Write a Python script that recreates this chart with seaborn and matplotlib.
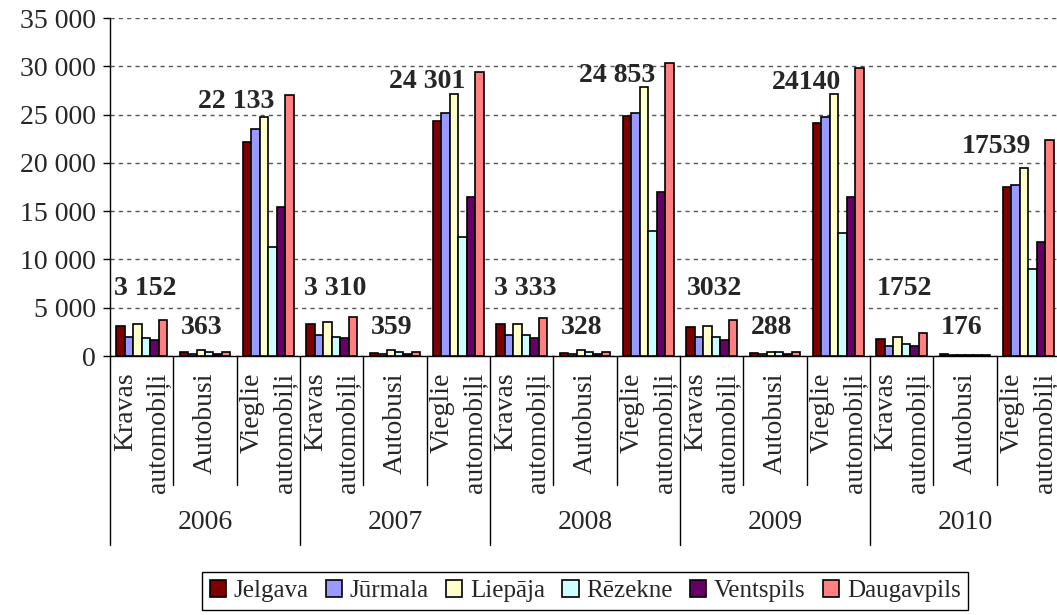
import matplotlib
matplotlib.use("Agg")
import matplotlib.pyplot as plt
import matplotlib.transforms as mtransforms
from matplotlib.patches import Patch
import pandas as pd
import seaborn as sns

# ---------------- data ----------------
years = ["2006", "2007", "2008", "2009", "2010"]
vehicle_types = ["Kravas\nautomobiļi", "Autobusi", "Vieglie\nautomobiļi"]
cities = ["Jelgava", "Jūrmala", "Liepāja", "Rēzekne", "Ventspils", "Daugavpils"]

# order: for each year -> Kravas, Autobusi, Vieglie
jelgava = [3152, 363, 22133, 3310, 359, 24301, 3333, 328, 24853, 3032, 288, 24140, 1752, 176, 17539]
jurmala = [2000, 210, 23500, 2170, 240, 25120, 2170, 230, 25180, 1930, 200, 24770, 1035, 130, 17700]
liepaja = [3310, 620, 24770, 3550, 590, 27120, 3310, 590, 27870, 3105, 380, 27120, 2000, 150, 19420]
rezekne = [1830, 380, 11250, 2000, 380, 12350, 2170, 380, 12940, 2000, 380, 12700, 1240, 140, 8970]
ventspils = [1660, 210, 15390, 1830, 230, 16420, 1830, 230, 17010, 1660, 200, 16420, 1070, 130, 11830]
daugavpils = [3700, 410, 27010, 4070, 380, 29430, 3900, 380, 30290, 3700, 380, 29780, 2420, 150, 22360]

label_texts = ["3 152", "363", "22 133", "3 310", "359", "24 301", "3 333", "328", "24 853",
               "3032", "288", "24140", "1752", "176", "17539"]

colors = ["#800000", "#9999FF", "#FFFFCC", "#CCFFFF", "#660066", "#FF8080"]

# ---------------- style ----------------
sns.set_style("white")
plt.rcParams["font.family"] = ["Liberation Serif", "DejaVu Serif"]

series = dict(zip(cities, [jelgava, jurmala, liepaja, rezekne, ventspils, daugavpils]))
slots = [f"{y}|{t}" for y in years for t in vehicle_types]
rows = []
for c in cities:
    for s, v in zip(slots, series[c]):
        rows.append({"slot": s, "city": c, "value": v})
df = pd.DataFrame(rows)

W, H = 1057, 615
fig = plt.figure(figsize=(W / 100, H / 100), dpi=100)
ax = fig.add_axes([110 / W, 1 - 356 / H, 950 / W, 338 / H])

sns.barplot(data=df, x="slot", y="value", hue="city", order=slots, hue_order=cities,
            palette=dict(zip(cities, colors)), saturation=1, edgecolor="black",
            linewidth=1.2, width=0.8, errorbar=None, ax=ax, legend=False, zorder=3)

ax.set_axisbelow(True)
ax.set_xlim(-0.5, len(slots) - 0.5)
ax.set_ylim(0, 35000)
yt = list(range(0, 35001, 5000))
ax.set_yticks(yt)
ax.set_yticklabels([f"{v:,}".replace(",", " ") for v in yt])
ax.yaxis.grid(True, linestyle=(0, (3, 3)), color="#555555", linewidth=1)
ax.xaxis.grid(False)
ax.set_xlabel("")
ax.set_ylabel("")

ax.set_xticks(range(len(slots)))
ax.set_xticklabels([t for y in years for t in vehicle_types], rotation=90,
                   multialignment="right", linespacing=1.4, fontsize=20)
ax.tick_params(axis="x", length=0, pad=12)
ax.tick_params(axis="y", length=5, width=1, direction="out", pad=5, labelsize=20,
               left=True, color="black")

for side in ["top", "right"]:
    ax.spines[side].set_visible(False)
for side in ["left", "bottom"]:
    ax.spines[side].set_color("black")
    ax.spines[side].set_linewidth(1)

# multi-level category separators
trans = mtransforms.blended_transform_factory(ax.transData, ax.transAxes)
n_types = len(vehicle_types)
for i in range(len(slots) + 1):
    y_end = -0.559 if i % n_types == 0 else -0.382
    ax.plot([i - 0.5, i - 0.5], [0, y_end], transform=trans, color="black",
            lw=1, clip_on=False)

for j, y in enumerate(years):
    ax.text(n_types * j + (n_types - 1) / 2, -0.492, y, transform=trans,
            ha="center", va="center", fontsize=20)

# data labels (Jelgava values)
kravas_max = max(max(s[0::3]) for s in series.values())
bus_max = max(max(s[1::3]) for s in series.values())
for idx, txt in enumerate(label_texts):
    t = idx % n_types
    if t == 0:
        x, yv = idx + 0.05, kravas_max + 2200
    elif t == 1:
        x, yv = idx - 0.06, bus_max + 1700
    else:
        x, yv = idx - 0.5, jelgava[idx] + 3500
    ax.text(x, yv, txt, ha="center", va="baseline", fontsize=20,
            fontweight="bold", zorder=5)

handles = [Patch(facecolor=c, edgecolor="black", linewidth=1.2) for c in colors]
leg = fig.legend(handles, cities, loc="center", bbox_to_anchor=(585 / W, 1 - 591 / H),
                 ncol=6, frameon=True, fancybox=False, edgecolor="black", framealpha=1,
                 fontsize=18, handlelength=0.65, handleheight=0.65, handletextpad=0.3,
                 columnspacing=0.7, borderpad=0.3)
leg.get_frame().set_linewidth(1)

fig.savefig("out.png", dpi=100)
